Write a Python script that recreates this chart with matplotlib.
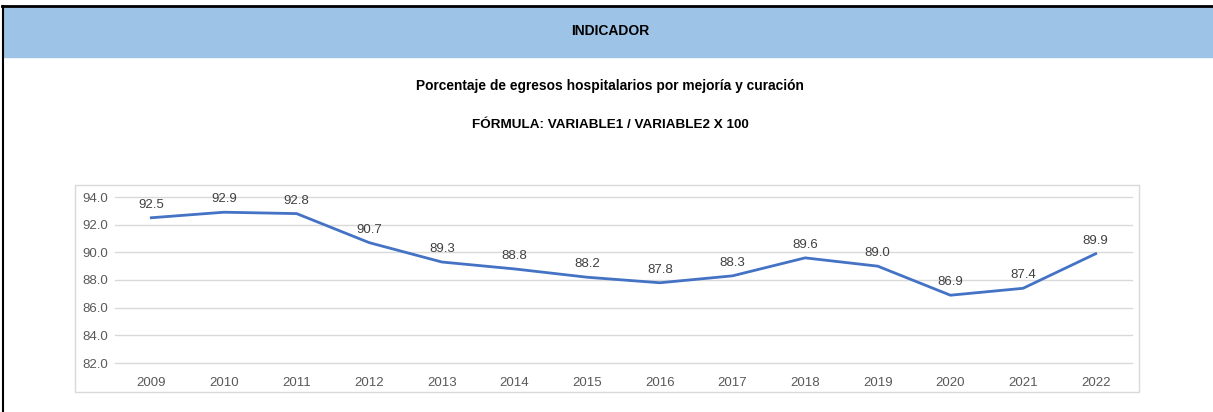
import matplotlib.pyplot as plt
from matplotlib.patches import Rectangle
from matplotlib.lines import Line2D

years = ['2009', '2010', '2011', '2012', '2013', '2014', '2015',
         '2016', '2017', '2018', '2019', '2020', '2021', '2022']
values = [92.5, 92.9, 92.8, 90.7, 89.3, 88.8, 88.2,
          87.8, 88.3, 89.6, 89.0, 86.9, 87.4, 89.9]
yticks = [82.0, 84.0, 86.0, 88.0, 90.0, 92.0, 94.0]

W, H = 1213, 412
fig = plt.figure(figsize=(W / 100, H / 100), dpi=100)
plt.rcParams['font.family'] = ['Liberation Sans', 'DejaVu Sans']

# header band and frame lines (pixel coords -> figure fraction)
def fx(px):
    return px / W

def fy(py):
    return 1 - py / H

fig.patches.append(Rectangle((fx(4), fy(57)), 1 - fx(4), fy(7) - fy(57),
                             transform=fig.transFigure, color='#9DC3E6', zorder=0))
fig.lines.append(Line2D([fx(2), 1], [fy(6), fy(6)], transform=fig.transFigure,
                        color='black', linewidth=2))
fig.lines.append(Line2D([fx(3), fx(3)], [fy(6), 0], transform=fig.transFigure,
                        color='black', linewidth=1.5))
fig.patches.append(Rectangle((fx(75), fy(392)), fx(1139) - fx(75), fy(185) - fy(392),
                             transform=fig.transFigure, fill=False,
                             edgecolor='#D9D9D9', linewidth=1))

fig.text(fx(610), fy(31), 'INDICADOR', ha='center', va='center',
         fontsize=10, fontweight='bold')
fig.text(fx(610), fy(86), 'Porcentaje de egresos hospitalarios por mejoría y curación',
         ha='center', va='center', fontsize=9.9, fontweight='bold')
fig.text(fx(610), fy(125), 'FÓRMULA: VARIABLE1 / VARIABLE2 X 100',
         ha='center', va='center', fontsize=9.7, fontweight='bold')

ax = fig.add_axes([fx(115), fy(363), fx(1132) - fx(115), fy(197) - fy(363)])
x = list(range(len(years)))
ax.plot(x, values, color='#4472C4', linewidth=2, solid_joinstyle='round')
for xi, v in zip(x, values):
    ax.annotate(f'{v:.1f}', (xi, v), xytext=(0, 5), textcoords='offset points',
                ha='center', va='bottom', fontsize=9.5, color='#404040')

ax.set_xlim(-0.5, len(years) - 0.5)
ax.set_ylim(82, 94)
ax.set_yticks(yticks)
ax.set_yticklabels([f'{t:.1f}' for t in yticks])
ax.set_xticks(x)
ax.set_xticklabels(years)
ax.grid(axis='y', color='#D9D9D9', linewidth=1)
for gl in ax.get_ygridlines():
    gl.set_clip_on(False)
ax.set_axisbelow(True)
for s in ax.spines.values():
    s.set_visible(False)
ax.tick_params(length=0, labelsize=9.5, colors='#595959')
ax.tick_params(axis='x', pad=10)
ax.tick_params(axis='y', pad=5)

fig.savefig('out.png', dpi=100)
